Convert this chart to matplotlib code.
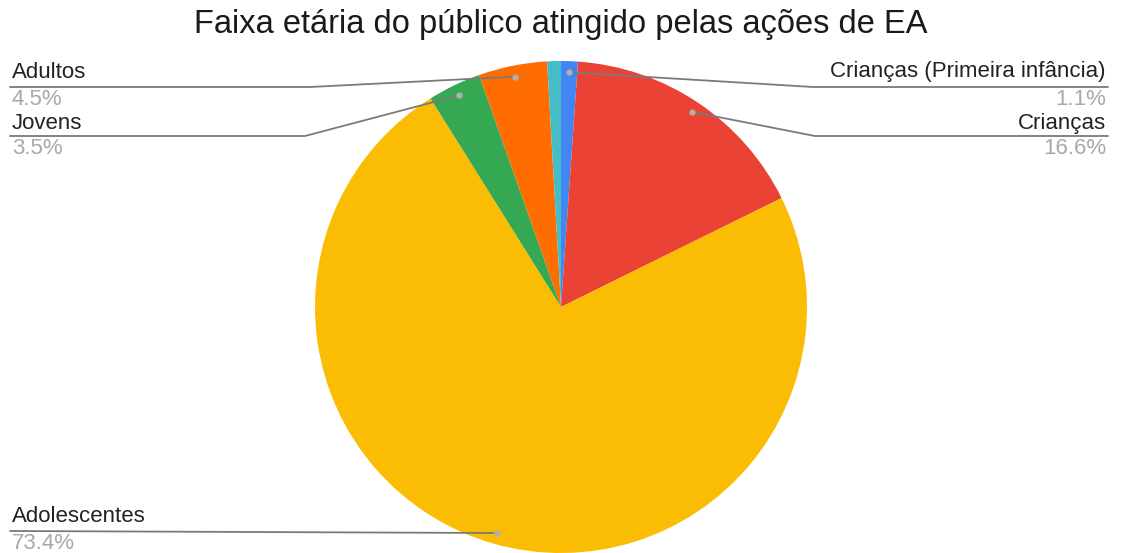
import numpy as np
import matplotlib.pyplot as plt

plt.rcParams['font.family'] = ['Liberation Sans', 'DejaVu Sans']

# dados do gráfico (sentido horário a partir do topo)
categorias = ['Crianças (Primeira infância)', 'Crianças', 'Adolescentes',
              'Jovens', 'Adultos', 'Outros']
percentuais = [1.1, 16.6, 73.4, 3.5, 4.5, 0.9]
cores = ['#4285F4', '#EA4335', '#FBBC04', '#34A853', '#FF6D01', '#46BDC6']
titulo = 'Faixa etária do público atingido pelas ações de EA'

W, H = 1121, 553
fig = plt.figure(figsize=(W/100, H/100), dpi=100)
ax = fig.add_axes([0, 0, 1, 1])

# centro e raio da pizza, em pixels (y medido a partir do topo)
cx, cy, r = 561, H - 307, 246

wedges, _ = ax.pie(percentuais, colors=cores, startangle=90, counterclock=False,
                   center=(cx, cy), radius=r, wedgeprops=dict(linewidth=0))
ax.set_xlim(0, W)
ax.set_ylim(0, H)
ax.set_aspect('equal')
ax.axis('off')

# posição dos rótulos: lado, linha de base do nome, linha guia, dobra
layout = {
    'Adultos': ('left', 78, 87, 310),
    'Jovens': ('left', 129, 136, 305),
    'Adolescentes': ('left', 522, 531, None),
    'Crianças (Primeira infância)': ('right', 77, 87, 813),
    'Crianças': ('right', 129, 136, 815),
}

cor_linha = '#7a7a7a'
for w, cat, p in zip(wedges, categorias, percentuais):
    if cat not in layout:
        continue
    lado, yt, yl, xb = layout[cat]
    meio = np.deg2rad((w.theta1 + w.theta2) / 2)
    px = cx + 0.955 * r * np.cos(meio)
    py = cy + 0.955 * r * np.sin(meio)
    if lado == 'left':
        xt, xe, ha = 12, 10, 'left'
    else:
        xt, xe, ha = 1106, 1108, 'right'
    if xb is None:
        xs = [xe, px]
        ys = [H - yl, py]
    else:
        xs = [xe, xb, px]
        ys = [H - yl, H - yl, py]
    ax.plot(xs, ys, color=cor_linha, lw=1.3, solid_capstyle='round', zorder=3)
    ax.plot(px, py, 'o', ms=4.5, color='#b0b0b0', mec='none', zorder=4)
    ax.text(xt, H - yt, cat, ha=ha, va='baseline', fontsize=16, color='#222222')
    ax.text(xt, H - yl - 18, f'{p:.1f}%', ha=ha, va='baseline', fontsize=16,
            color='#a8a8a8')

ax.text(561, H - 33, titulo, ha='center', va='baseline', fontsize=23.5,
        color='#1a1a1a')

fig.savefig('out.png', dpi=100, facecolor='white')
